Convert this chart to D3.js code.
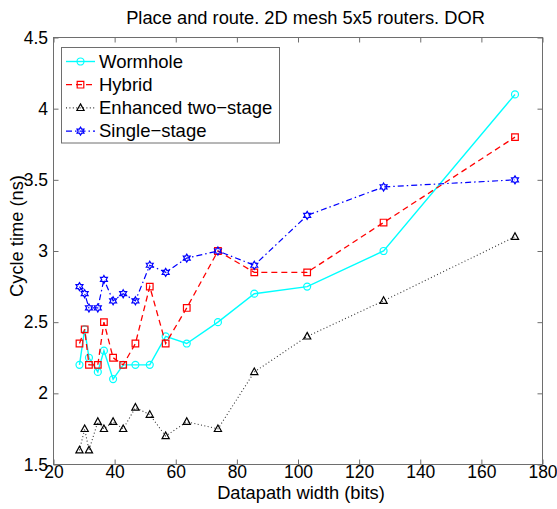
<!DOCTYPE html>
<html><head><meta charset="utf-8">
<script src="https://cdn.jsdelivr.net/npm/d3@7"></script>
<style>body{margin:0;background:#fff} text{font-family:"Liberation Sans",Arial,Helvetica,sans-serif;fill:#000}</style>
</head><body><svg id="c" width="557" height="509"></svg>
<script>
const widths   = [28.5, 30.2, 31.6, 34.5, 36.5, 39.5, 42.8, 46.8, 51.5, 56.7, 63.6, 73.8, 85.7, 103, 128, 171];
const wormhole = [2.2, 2.45, 2.25, 2.15, 2.3, 2.1, 2.2, 2.2, 2.2, 2.4, 2.35, 2.5, 2.7, 2.75, 3.0, 4.1];
const hybrid   = [2.35, 2.45, 2.2, 2.2, 2.5, 2.25, 2.2, 2.35, 2.75, 2.35, 2.6, 3.0, 2.85, 2.85, 3.2, 3.8];
const enhanced = [1.6, 1.75, 1.6, 1.8, 1.75, 1.8, 1.75, 1.9, 1.85, 1.7, 1.8, 1.75, 2.15, 2.4, 2.65, 3.1];
const single   = [2.75, 2.7, 2.6, 2.6, 2.8, 2.65, 2.7, 2.65, 2.9, 2.85, 2.95, 3.0, 2.9, 3.25, 3.45, 3.5];
const seriesNames = ["Wormhole", "Hybrid", "Enhanced two\u2212stage", "Single\u2212stage"];
const xTicks = [20, 40, 60, 80, 100, 120, 140, 160, 180];
const yTicks = [1.5, 2, 2.5, 3, 3.5, 4, 4.5];
const titleText = "Place and route. 2D mesh 5x5 routers. DOR";
const xLabel = "Datapath width (bits)";
const yLabel = "Cycle time (ns)";

(function(){
const L = 53.5, R = 542.5, T = 37.5, B = 464.5;
const svg = d3.select("#c");
const x = d3.scaleLinear().domain([20, 180]).range([L, R]);
const y = d3.scaleLinear().domain([1.5, 4.5]).range([B, T]);

const styles = [
  {color: "#00ffff", dash: null, marker: "circle", width: 1.4},
  {color: "#ff0000", dash: "6,4", marker: "square", width: 1.3},
  {color: "#333333", dash: "1,2.4", marker: "triangle", width: 1.1},
  {color: "#0000ff", dash: "6,3,1.5,3", marker: "hexagram", width: 1.2}
];
const data = [wormhole, hybrid, enhanced, single];

const tickLen = 5;
const axisCol = "#6e6e6e";
const ax = svg.append("g");
const axB = d3.axisBottom(x).tickValues(xTicks).tickSize(-tickLen).tickPadding(1.5).tickFormat(d3.format("d"));
const axT = d3.axisTop(x).tickValues(xTicks).tickSize(-tickLen).tickFormat("");
const axL = d3.axisLeft(y).tickValues(yTicks).tickSize(-tickLen).tickPadding(5.5).tickFormat(d => String(d));
const axR = d3.axisRight(y).tickValues(yTicks).tickSize(-tickLen).tickFormat("");
function styleAxis(g){
  g.select(".domain").remove();
  g.selectAll(".tick line").attr("stroke", axisCol);
  g.selectAll(".tick text").style("font-size", "17.5px").attr("fill", "#000");
}
ax.append("g").attr("transform", `translate(0,${B})`).call(axB).call(styleAxis);
ax.append("g").attr("transform", `translate(0,${T})`).call(axT).call(styleAxis);
ax.append("g").attr("transform", `translate(${L},0)`).call(axL).call(styleAxis);
ax.append("g").attr("transform", `translate(${R},0)`).call(axR).call(styleAxis);
svg.append("rect").attr("x", L).attr("y", T).attr("width", R - L).attr("height", B - T)
  .attr("fill", "none").attr("stroke", axisCol);

function hexPath(r){
  const ri = r / Math.sqrt(3), pts = [];
  for (let i = 0; i < 12; i++){
    const a = -Math.PI/2 + i * Math.PI/6, rr = i % 2 ? ri : r;
    pts.push([rr * Math.cos(a), rr * Math.sin(a)]);
  }
  return "M" + pts.map(p => p.join(",")).join("L") + "Z";
}
function markerPath(m){
  if (m === "circle") return d3.symbol(d3.symbolCircle, 38)();
  if (m === "square") return "M-3.3,-3.3H3.3V3.3H-3.3Z";
  if (m === "triangle") return "M0,-4L3.6,2.6H-3.6Z";
  return hexPath(4);
}

const line = d3.line().x(d => x(d[0])).y(d => y(d[1]));
data.forEach((vals, i) => {
  const s = styles[i];
  const pts = widths.map((w, j) => [w, vals[j]]);
  const g = svg.append("g");
  g.append("path").attr("d", line(pts)).attr("fill", "none").attr("stroke", s.color)
    .attr("stroke-width", s.width).attr("stroke-dasharray", s.dash);
  g.selectAll("path.m").data(pts).join("path").attr("class", "m")
    .attr("transform", d => `translate(${x(d[0])},${y(d[1])})`)
    .attr("d", markerPath(s.marker)).attr("fill", "none")
    .attr("stroke", i === 2 ? "#000" : s.color).attr("stroke-width", 1.2);
});

const lg = svg.append("g");
lg.append("rect").attr("x", 61.5).attr("y", 47.5).attr("width", 218).attr("height", 95.5)
  .attr("fill", "#fff").attr("stroke", axisCol);
seriesNames.forEach((n, i) => {
  const s = styles[i], yy = 61.5 + i * 23.2;
  lg.append("line").attr("x1", 66).attr("x2", 95).attr("y1", yy).attr("y2", yy)
    .attr("stroke", s.color).attr("stroke-width", s.width).attr("stroke-dasharray", s.dash);
  lg.append("path").attr("transform", `translate(80.5,${yy})`).attr("d", markerPath(s.marker))
    .attr("fill", "none").attr("stroke", i === 2 ? "#000" : s.color).attr("stroke-width", 1.2);
  lg.append("text").attr("x", 99).attr("y", yy + 6).style("font-size", "18.5px").text(n);
});

svg.append("text").attr("x", 305.5).attr("y", 24).attr("text-anchor", "middle").style("font-size", "18.3px").text(titleText);
svg.append("text").attr("x", 301).attr("y", 499).attr("text-anchor", "middle").style("font-size", "18.3px").text(xLabel);
svg.append("text").attr("transform", "translate(23,236) rotate(-90)").attr("text-anchor", "middle").style("font-size", "18.3px").text(yLabel);
})();
</script></body></html>
